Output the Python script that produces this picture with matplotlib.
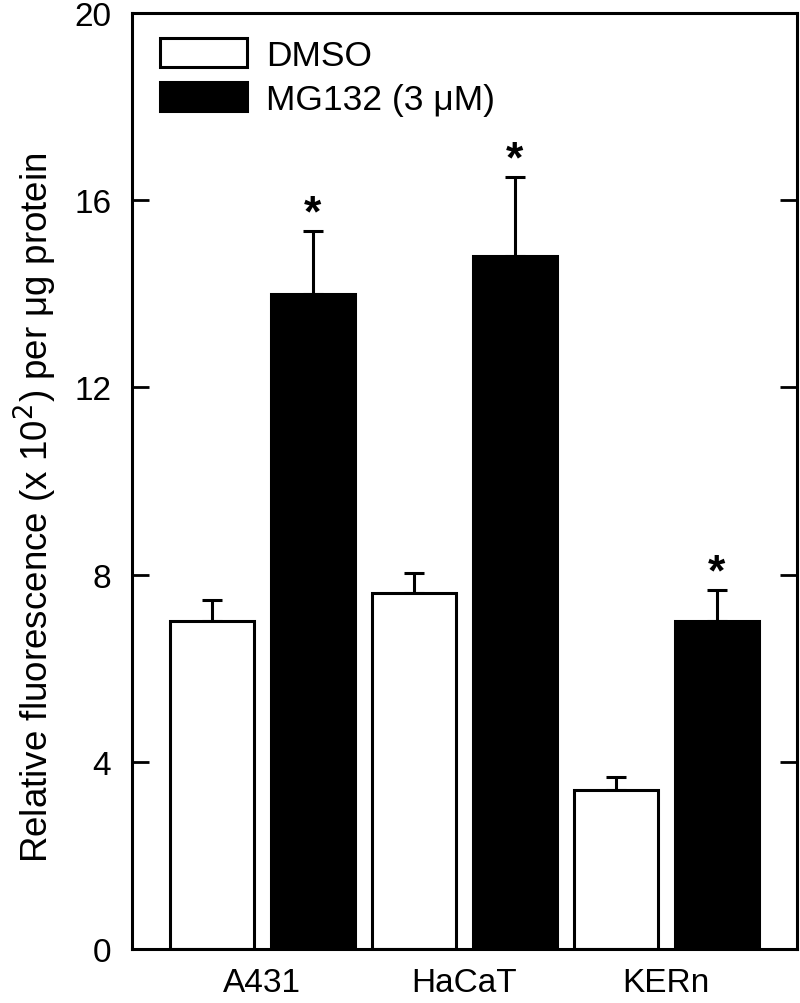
import numpy as np
import matplotlib
matplotlib.use("Agg")
import matplotlib.pyplot as plt

plt.rcParams['font.family'] = ['Liberation Sans', 'DejaVu Sans']

cells = ['A431', 'HaCaT', 'KERn']
dmso = [7.0, 7.6, 3.4]
dmso_err = [0.45, 0.43, 0.27]
mg132 = [14.0, 14.8, 7.0]
mg132_err = [1.35, 1.7, 0.67]
signif = ['*', '*', '*']

fig = plt.figure(figsize=(8, 10.04), dpi=100)
ax = fig.add_axes([0.165, 0.0538, 0.8313, 0.9322])

x = np.arange(len(cells))
w = 0.415
off = 0.25
lw = 2.2

b1 = ax.bar(x - off, dmso, w, color='white', edgecolor='black', linewidth=lw,
            label='DMSO', zorder=2)
b2 = ax.bar(x + off, mg132, w, color='black', edgecolor='black', linewidth=lw,
            label='MG132 (3 \u03bcM)', zorder=2)

# upper error bars only
ax.errorbar(x - off, dmso, yerr=[np.zeros(3), dmso_err], fmt='none', ecolor='black',
            elinewidth=lw, capsize=7, capthick=lw, zorder=1)
ax.errorbar(x + off, mg132, yerr=[np.zeros(3), mg132_err], fmt='none', ecolor='black',
            elinewidth=lw, capsize=7, capthick=lw, zorder=1)

for xi, v, e, s in zip(x, mg132, mg132_err, signif):
    ax.text(xi + off, v + e - 0.08, s, ha='center', va='bottom', fontsize=32,
            fontweight='bold')

ax.set_xlim(-0.644, 2.648)
ax.set_ylim(0, 20)
ax.set_yticks([0, 4, 8, 12, 16, 20])
ax.set_xticks(x)
ax.set_xticklabels(cells)
ax.tick_params(axis='y', direction='in', length=12, width=2, labelsize=24, pad=15,
               right=True)
ax.tick_params(axis='x', length=0, labelsize=24, pad=13)
for sp in ax.spines.values():
    sp.set_linewidth(2.2)

ax.set_ylabel('Relative fluorescence (x 10$^{2}$) per \u03bcg protein', fontsize=26.5)
ax.yaxis.set_label_coords(-0.11, 0.473)

ax.legend(handles=[b1, b2], loc='upper left', bbox_to_anchor=(-0.006, 1.007),
          frameon=False, fontsize=25.5, handlelength=2.45, handleheight=0.85,
          handletextpad=0.55, labelspacing=0.3)

fig.savefig('out.png', dpi=100)
